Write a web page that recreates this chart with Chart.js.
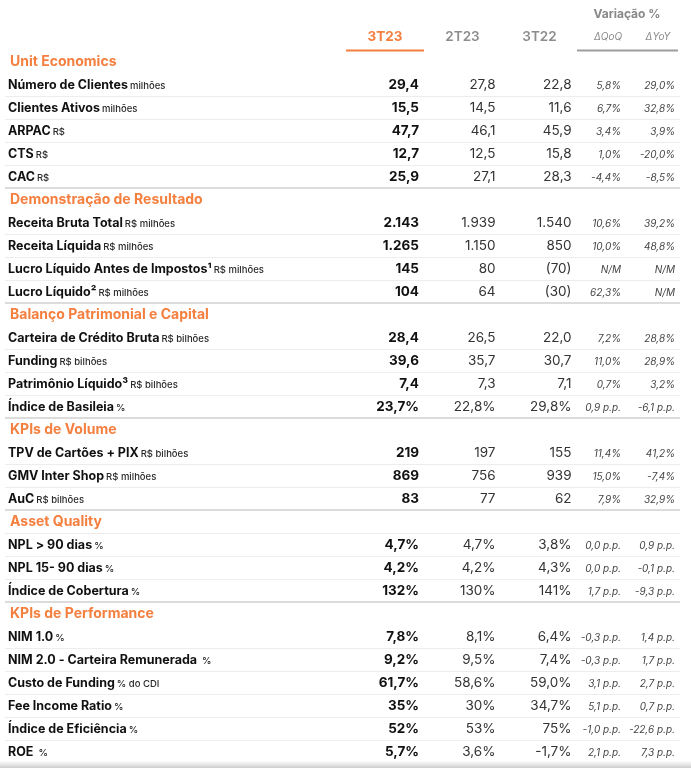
<!DOCTYPE html>
<html>
<head>
<meta charset="utf-8">
<script src="https://cdn.jsdelivr.net/npm/chart.js@4.4.0/dist/chart.umd.min.js"></script>
<style>
  html, body { margin: 0; padding: 0; background: #fff; }
</style>
</head>
<body>
<canvas id="tbl" width="691" height="768"></canvas>
<script>
/* --------------------------
   TABLE DATA
--------------------------- */
const sections = ['Unit Economics', 'Demonstração de Resultado', 'Balanço Patrimonial e Capital',
    'KPIs de Volume', 'Asset Quality', 'KPIs de Performance'];
const sectionStart = [0, 5, 9, 13, 16, 19]; // first metric of each section

const metrics = [
    'Número de Clientes', 'Clientes Ativos', 'ARPAC', 'CTS', 'CAC',
    'Receita Bruta Total', 'Receita Líquida', 'Lucro Líquido Antes de Impostos¹', 'Lucro Líquido²',
    'Carteira de Crédito Bruta', 'Funding', 'Patrimônio Líquido³', 'Índice de Basileia',
    'TPV de Cartões + PIX', 'GMV Inter Shop', 'AuC',
    'NPL > 90 dias', 'NPL 15- 90 dias', 'Índice de Cobertura',
    'NIM 1.0', 'NIM 2.0 - Carteira Remunerada ', 'Custo de Funding', 'Fee Income Ratio', 'Índice de Eficiência', 'ROE '
];
const units = [
    'milhões', 'milhões', 'R$', 'R$', 'R$',
    'R$ milhões', 'R$ milhões', 'R$ milhões', 'R$ milhões',
    'R$ bilhões', 'R$ bilhões', 'R$ bilhões', '%',
    'R$ bilhões', 'R$ milhões', 'R$ bilhões',
    '%', '%', '%',
    '%', '%', '% do CDI', '%', '%', '%'
];

const columnHeads = ['3T23', '2T23', '3T22', 'ΔQoQ', 'ΔYoY'];
const val3T23 = ['29,4', '15,5', '47,7', '12,7', '25,9',
    '2.143', '1.265', '145', '104',
    '28,4', '39,6', '7,4', '23,7%',
    '219', '869', '83',
    '4,7%', '4,2%', '132%',
    '7,8%', '9,2%', '61,7%', '35%', '52%', '5,7%'];
const val2T23 = ['27,8', '14,5', '46,1', '12,5', '27,1',
    '1.939', '1.150', '80', '64',
    '26,5', '35,7', '7,3', '22,8%',
    '197', '756', '77',
    '4,7%', '4,2%', '130%',
    '8,1%', '9,5%', '58,6%', '30%', '53%', '3,6%'];
const val3T22 = ['22,8', '11,6', '45,9', '15,8', '28,3',
    '1.540', '850', '(70)', '(30)',
    '22,0', '30,7', '7,1', '29,8%',
    '155', '939', '62',
    '3,8%', '4,3%', '141%',
    '6,4%', '7,4%', '59,0%', '34,7%', '75%', '-1,7%'];
const varQoQ = ['5,8%', '6,7%', '3,4%', '1,0%', '-4,4%',
    '10,6%', '10,0%', 'N/M', '62,3%',
    '7,2%', '11,0%', '0,7%', '0,9 p.p.',
    '11,4%', '15,0%', '7,9%',
    '0,0 p.p.', '0,0 p.p.', '1,7 p.p.',
    '-0,3 p.p.', '-0,3 p.p.', '3,1 p.p.', '5,1 p.p.', '-1,0 p.p.', '2,1 p.p.'];
const varYoY = ['29,0%', '32,8%', '3,9%', '-20,0%', '-8,5%',
    '39,2%', '48,8%', 'N/M', 'N/M',
    '28,8%', '28,9%', '3,2%', '-6,1 p.p.',
    '41,2%', '-7,4%', '32,9%',
    '0,9 p.p.', '-0,1 p.p.', '-9,3 p.p.',
    '1,4 p.p.', '1,7 p.p.', '2,7 p.p.', '0,7 p.p.', '-22,6 p.p.', '7,3 p.p.'];

/* --------------------------
   ROW LAYOUT
--------------------------- */
const ORANGE = '#f47f3e';
const FONT = 'Inter, "Open Sans", sans-serif';

const sectionRow = [];
const metricRow = [];
let r = 0;
sections.forEach((s, si) => {
    sectionRow.push(r++);
    const end = si + 1 < sections.length ? sectionStart[si + 1] : metrics.length;
    for (let m = sectionStart[si]; m < end; m++) metricRow.push(r++);
});
const rowCount = r;

// right edge of each value column (x scale = canvas px), header centre offset
const colRight = [419, 495.5, 571.5, 621, 675];
const headShift = [-34, -33, -32, -13, -17];
const colValues = [val3T23, val2T23, val3T22, varQoQ, varYoY];
const colFont = ['bold 13.5px ' + FONT, '13.5px ' + FONT, '13.5px ' + FONT,
    'italic 10px ' + FONT, 'italic 10px ' + FONT];
const colColor = ['#111', '#333', '#333', '#444', '#444'];

const datasets = [
    {
        label: 'sections',
        data: sectionRow.map(y => ({ x: 10, y })),
        cellText: sections,
        font: 'bold 14px ' + FONT, color: ORANGE, align: 'left'
    },
    {
        label: 'metrics',
        data: metricRow.map(y => ({ x: 8, y })),
        cellText: metrics,
        unitText: units,
        font: 'bold 12.5px ' + FONT, color: '#111', align: 'left'
    }
];
colValues.forEach((vals, c) => {
    datasets.push({
        label: columnHeads[c],
        data: metricRow.map(y => ({ x: colRight[c], y })),
        cellText: vals,
        font: colFont[c], color: colColor[c], align: 'right'
    });
});

/* --------------------------
   TABLE PLUGIN
--------------------------- */
const tablePlugin = {
    id: 'tablePlugin',
    beforeDatasetsDraw(chart) {
        const ctx = chart.ctx;
        const yS = chart.scales.y;
        const top = chart.chartArea.top;
        ctx.save();

        // row separators
        for (let i = 1; i < rowCount; i++) {
            const y = Math.round(yS.getPixelForValue(i - 0.5));
            const isSection = sectionRow.includes(i);
            const afterSection = sectionRow.includes(i - 1);
            // only "Asset Quality" has a rule under its heading
            if (afterSection && sections[sectionRow.indexOf(i - 1)] !== 'Asset Quality') continue;
            ctx.fillStyle = isSection ? '#dcdcdc' : '#ededed';
            ctx.fillRect(5, y - (isSection ? 1 : 0), 675, isSection ? 2 : 1);
        }

        // bottom shading
        const b = chart.chartArea.bottom;
        const g = ctx.createLinearGradient(0, b - 2, 0, chart.height);
        g.addColorStop(0, 'rgba(215,215,215,0)');
        g.addColorStop(1, 'rgba(205,205,205,1)');
        ctx.fillStyle = g;
        ctx.fillRect(0, b - 2, chart.width, chart.height - b + 2);

        // column headers
        ctx.textAlign = 'center';
        ctx.textBaseline = 'middle';
        columnHeads.forEach((h, c) => {
            const x = chart.scales.x.getPixelForValue(colRight[c]) + headShift[c];
            if (c === 0) { ctx.font = 'bold 13.5px ' + FONT; ctx.fillStyle = ORANGE; }
            else if (c < 3) { ctx.font = '600 13.5px ' + FONT; ctx.fillStyle = '#8d8d8d'; }
            else { ctx.font = 'italic 10px ' + FONT; ctx.fillStyle = '#8d8d8d'; }
            ctx.fillText(h, x, top - 14);
        });
        ctx.font = 'bold 12px ' + FONT;
        ctx.fillStyle = '#888';
        ctx.fillText('Variação %', 627, top - 36);

        ctx.fillStyle = ORANGE;
        ctx.fillRect(346, top - 1, 78, 2);
        ctx.fillStyle = '#9d9d9d';
        ctx.fillRect(577, top - 1, 101, 2);
        ctx.restore();
    },
    afterDatasetsDraw(chart) {
        const ctx = chart.ctx;
        ctx.save();
        chart.data.datasets.forEach((ds, d) => {
            const meta = chart.getDatasetMeta(d);
            meta.data.forEach((pt, i) => {
                const base = pt.y + 4.5;
                ctx.font = ds.font;
                ctx.fillStyle = ds.color;
                ctx.textAlign = ds.align;
                ctx.textBaseline = 'alphabetic';
                ctx.fillText(ds.cellText[i], pt.x, base);
                if (ds.unitText) {
                    const w = ctx.measureText(ds.cellText[i]).width;
                    ctx.font = '500 9.5px ' + FONT;
                    ctx.fillStyle = '#2a2a2a';
                    ctx.textAlign = 'left';
                    ctx.fillText(ds.unitText[i], pt.x + w + 2, base);
                }
            });
        });
        ctx.restore();
    }
};

new Chart(document.getElementById('tbl'), {
    type: 'scatter',
    data: { datasets },
    options: {
        responsive: false,
        animation: false,
        devicePixelRatio: 1,
        layout: { padding: { top: 50.5, bottom: 5.5, left: 0, right: 0 } },
        elements: { point: { radius: 0, hoverRadius: 0 } },
        scales: {
            x: { type: 'linear', min: 0, max: 691, display: false },
            y: { type: 'linear', min: -0.5, max: rowCount - 0.5, reverse: true, display: false }
        },
        plugins: { legend: { display: false }, tooltip: { enabled: false } }
    },
    plugins: [tablePlugin]
});
</script>
</body>
</html>
